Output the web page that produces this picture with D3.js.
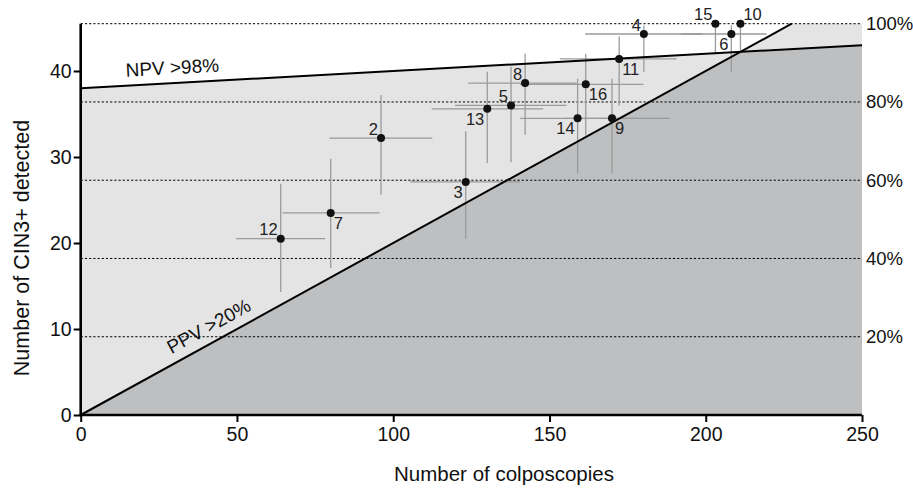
<!DOCTYPE html>
<html>
<head>
<meta charset="utf-8">
<script src="https://cdn.jsdelivr.net/npm/d3@7"></script>
<style>
  html, body { margin: 0; padding: 0; background: #fff; }
  svg { display: block; font-family: "Liberation Sans", Arial, Helvetica, sans-serif; }
</style>
</head>
<body>
<svg id="chart" width="913" height="493"></svg>
<script>
// ---- data ----
const ids   = ["2","3","4","5","6","7","8","9","10","11","12","13","14","15","16"];
const xVals = [96.1,123.2,180.2,137.7,208.2,80.0,142.2,170.0,211.1,172.3,64.0,130.1,159.0,203.1,161.6];
const yVals = [32.2,27.1,44.3,36.0,44.3,23.5,38.6,34.5,45.5,41.4,20.5,35.6,34.5,45.5,38.45];
const xLow  = [79.6,105.4,161.4,119.8,192.0,64.6,124.0,155.0,null,153.4,49.7,112.3,140.6,null,140.6];
const xHigh = [112.5,140.6,199.0,155.5,219.5,95.6,158.7,188.6,null,190.7,78.2,148.0,178.0,null,180.0];
const yLow  = [25.6,20.5,39.9,29.4,39.9,17.1,32.6,28.1,42.4,36.0,14.3,29.3,28.1,42.1,32.5];
const yHigh = [37.2,33.0,45.3,40.5,45.3,29.8,42.0,39.1,45.5,44.0,26.9,39.9,39.1,45.5,42.0];
const labelPos = ["tl","bl","tl","tl","bl","br","tl","br","tr","br","tl","bl","bl","tl","br"];

const xTicks = [0,50,100,150,200,250];
const yTicks = [0,10,20,30,40];
const pctTicks = [20,40,60,80,100];
const pctLabels = ["20%","40%","60%","80%","100%"];

const yMaxDetected = 45.5;   // 100% on the right axis
const npvIntercept = 38, npvSlope = 0.02;  // NPV >98% line
const ppvSlope = 0.2;                      // PPV >20% line
const xTitle = "Number of colposcopies";
const yTitle = "Number of CIN3+ detected";
const npvLabel = "NPV >98%";
const ppvLabel = "PPV >20%";

// ---- layout ----
const svg = d3.select("#chart");
const x = d3.scaleLinear().domain([0, 250]).range([80.7, 862]);
const y = d3.scaleLinear().domain([0, yMaxDetected]).range([415, 23.7]);
const xMax = 250;

const LIGHT = "#e4e4e4", DARK = "#bebfc1";

const line = d3.line().x(d => x(d[0])).y(d => y(d[1]));

// shaded areas
const ppvTopX = yMaxDetected / ppvSlope;
const crossX = npvIntercept / (ppvSlope - npvSlope);
const npvAt = v => npvIntercept + npvSlope * v;

svg.append("path").attr("fill", LIGHT)
  .attr("d", line([[0,0],[0,npvIntercept],[xMax,npvAt(xMax)],[xMax,0]]) + "Z");
svg.append("path").attr("fill", LIGHT)
  .attr("d", line([[0,0],[ppvTopX,yMaxDetected],[xMax,yMaxDetected],[xMax,0]]) + "Z");
svg.append("path").attr("fill", DARK)
  .attr("d", line([[0,0],[crossX,ppvSlope*crossX],[xMax,npvAt(xMax)],[xMax,0]]) + "Z");

// dotted percentage gridlines + right labels
pctTicks.forEach((p, i) => {
  const yy = y(p / 100 * yMaxDetected);
  svg.append("line")
    .attr("x1", x(0)).attr("x2", x(xMax)).attr("y1", yy).attr("y2", yy)
    .attr("stroke", "#000").attr("stroke-width", 1).attr("stroke-dasharray", "2.2,2");
  svg.append("text").attr("x", x(xMax) + 4).attr("y", yy).attr("dy", "0.35em")
    .attr("font-size", 18.5).attr("fill", "#111").text(pctLabels[i]);
});

// error bars
const eb = svg.append("g").attr("stroke", "#9a9a9a").attr("stroke-width", 1.3);
ids.forEach((id, i) => {
  if (xLow[i] != null) {
    eb.append("line").attr("x1", x(xLow[i])).attr("x2", x(xHigh[i]))
      .attr("y1", y(yVals[i])).attr("y2", y(yVals[i]));
  }
  eb.append("line").attr("x1", x(xVals[i])).attr("x2", x(xVals[i]))
    .attr("y1", y(yLow[i])).attr("y2", y(yHigh[i]));
});

// threshold lines
svg.append("path").attr("fill", "none").attr("stroke", "#000").attr("stroke-width", 2)
  .attr("d", line([[0, npvIntercept], [xMax, npvAt(xMax)]]));
svg.append("path").attr("fill", "none").attr("stroke", "#000").attr("stroke-width", 2)
  .attr("d", line([[0, 0], [ppvTopX, yMaxDetected]]));

// threshold labels
const npvAngle = Math.atan2(y(npvAt(100)) - y(npvAt(0)), x(100) - x(0)) * 180 / Math.PI;
const npvX0 = 14.5;
svg.append("text")
  .attr("transform", `translate(${x(npvX0)},${y(npvAt(npvX0)) - 9}) rotate(${npvAngle})`)
  .attr("font-size", 19).attr("fill", "#111").text(npvLabel);

const ppvAngle = Math.atan2(y(ppvSlope*100) - y(0), x(100) - x(0)) * 180 / Math.PI;
const ppvX0 = 30.5;
const rad = ppvAngle * Math.PI / 180;
const off = 9.5;
svg.append("text")
  .attr("transform", `translate(${x(ppvX0) + off*Math.sin(rad)},${y(ppvSlope*ppvX0) - off*Math.cos(rad)}) rotate(${ppvAngle})`)
  .attr("font-size", 19).attr("fill", "#111").text(ppvLabel);

// points
svg.append("g").selectAll("circle").data(ids).join("circle")
  .attr("cx", (d, i) => x(xVals[i])).attr("cy", (d, i) => y(yVals[i]))
  .attr("r", 4).attr("fill", "#111");

// point labels
svg.append("g").selectAll("text").data(ids).join("text")
  .attr("font-size", 16.5).attr("fill", "#222")
  .attr("x", (d, i) => x(xVals[i]) + (labelPos[i][1] === "l" ? -3 : 3))
  .attr("y", (d, i) => y(yVals[i]) + (labelPos[i][0] === "t" ? -9 : 10))
  .attr("dy", "0.35em")
  .attr("text-anchor", (d, i) => labelPos[i][1] === "l" ? "end" : "start")
  .text(d => d);

// axes
const xAxis = d3.axisBottom(x).tickValues(xTicks).tickSize(7).tickPadding(5).tickFormat(d3.format("d"));
const gx = svg.append("g").attr("transform", `translate(0,${y(0)})`).call(xAxis);
gx.select(".domain").attr("stroke-width", 2.6).attr("d", `M${x(0)-1},0H${x(xMax)}`);
gx.selectAll(".tick line").attr("stroke-width", 2);
gx.selectAll(".tick text").attr("font-size", 19.5).attr("font-family", "Liberation Sans, Arial, sans-serif").attr("fill", "#111");

const yAxis = d3.axisLeft(y).tickValues(yTicks).tickSize(7).tickPadding(2).tickFormat(d3.format("d"));
const gy = svg.append("g").attr("transform", `translate(${x(0)},0)`).call(yAxis);
gy.select(".domain").attr("stroke-width", 2.6).attr("d", `M0,${y(0)+1}V${y(yMaxDetected)}`);
gy.selectAll(".tick line").attr("stroke-width", 2);
gy.selectAll(".tick text").attr("font-size", 19.5).attr("font-family", "Liberation Sans, Arial, sans-serif").attr("fill", "#111");

// titles
svg.append("text").attr("x", 504).attr("y", 481)
  .attr("text-anchor", "middle").attr("font-size", 20.5).attr("fill", "#111").text(xTitle);
svg.append("text").attr("transform", `translate(29,${248}) rotate(-90)`)
  .attr("text-anchor", "middle").attr("font-size", 21.5).attr("fill", "#111").text(yTitle);
</script>
</body>
</html>
